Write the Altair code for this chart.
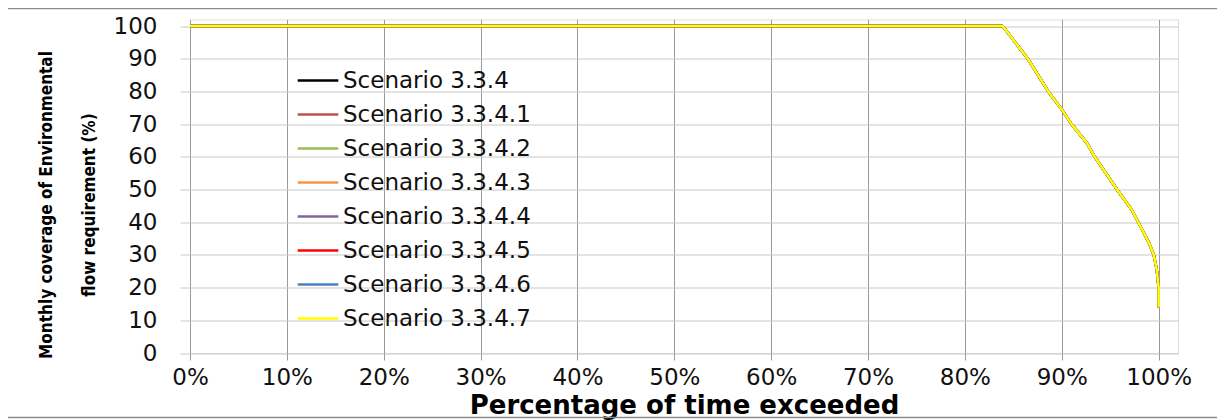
import altair as alt
import pandas as pd

# ---- data ----
scenarios = ["Scenario 3.3.4", "Scenario 3.3.4.1", "Scenario 3.3.4.2", "Scenario 3.3.4.3",
             "Scenario 3.3.4.4", "Scenario 3.3.4.5", "Scenario 3.3.4.6", "Scenario 3.3.4.7"]
colors = ["#000000", "#C0504D", "#9BBB59", "#F79646", "#8064A2", "#FF0000", "#4F81BD", "#FFFF00"]
widths = [2.5, 2.5, 2.5, 2.5, 2.5, 2.5, 2.5, 5]

# percentage of time exceeded (fraction) and monthly coverage (%)
exceed = [0.0, 0.839, 0.865, 0.886, 0.900, 0.910, 0.926, 0.934, 0.957, 0.972, 0.979,
          0.990, 0.995, 0.998, 1.000, 1.000]
coverage = [100, 100, 90, 80, 74.5, 70, 64.2, 60, 50, 43.9, 40,
            33.7, 30, 25.6, 20, 13.9]

x_ticks = [0, 0.1, 0.2, 0.3, 0.4, 0.5, 0.6, 0.7, 0.8, 0.9, 1.0]
y_ticks = [0, 10, 20, 30, 40, 50, 60, 70, 80, 90, 100]

rows = []
for s in scenarios:
    for xv, yv in zip(exceed, coverage):
        rows.append({"scenario": s, "exceed": xv, "coverage": yv})
df = pd.DataFrame(rows)

W, H = 988, 333.5
narrow = "'Liberation Sans Narrow', 'DejaVu Sans Condensed', 'Roboto Condensed', 'Arial Narrow', 'Liberation Sans', sans-serif"

frame = alt.Chart(pd.DataFrame({"f": [0]})).mark_rect(
    fill="transparent", stroke="#8c8c8c", strokeWidth=1.5
).encode(
    x=alt.value(-184), x2=alt.value(1100), y=alt.value(-11), y2=alt.value(398)
)

lines = alt.Chart(df).mark_line(strokeJoin="round", strokeCap="butt").encode(
    x=alt.X("exceed:Q",
            scale=alt.Scale(domain=[0, 1.02], nice=False, zero=False),
            axis=alt.Axis(values=x_ticks, format=".0%", grid=True, gridColor="#9a9a9a",
                          gridWidth=1, tickColor="#9a9a9a", tickSize=7, domain=False,
                          labelFont="DejaVu Sans", labelFontSize=23, labelColor="#111111",
                          labelPadding=6, labelFlush=False,
                          title="Percentage of time exceeded", titleFont="DejaVu Sans",
                          titleFontSize=26, titleFontWeight="bold", titleColor="#000000",
                          titleBaseline="alphabetic", titleY=60)),
    y=alt.Y("coverage:Q",
            scale=alt.Scale(domain=[0, 102], nice=False, zero=True),
            axis=alt.Axis(values=y_ticks, grid=True, gridColor="#c8c8c8", gridWidth=1,
                          tickColor="#c8c8c8", tickSize=10, domain=False,
                          labelFont="DejaVu Sans", labelFontSize=23, labelColor="#111111",
                          labelPadding=23,
                          title=["Monthly coverage of Environmental", "flow requirement  (%)"],
                          titleFont=narrow, titleFontSize=17,
                          titleFontWeight="bold", titleColor="#000000",
                          titleLineHeight=43, titleBaseline="middle", titleAlign="center",
                          titleX=-144, titleY=185, titleAngle=-90)),
    color=alt.Color("scenario:N",
                    scale=alt.Scale(domain=scenarios, range=colors),
                    legend=alt.Legend(title=None, orient="none", legendX=106, legendY=39,
                                      symbolType="stroke", symbolSize=1650,
                                      symbolStrokeWidth=3, labelFont="DejaVu Sans",
                                      labelFontSize=23, labelColor="#111111", labelLimit=0,
                                      labelOffset=3, rowPadding=0, padding=0)),
    strokeWidth=alt.StrokeWidth("scenario:N",
                                scale=alt.Scale(domain=scenarios, range=widths),
                                legend=None),
    order=alt.Order("exceed:Q"),
)

chart = alt.layer(frame, lines).properties(
    width=W, height=H,
    autosize=alt.AutoSizeParams(type="none"),
    padding={"left": 182, "top": 11.5, "right": 39, "bottom": 67},
).configure_view(stroke=None).configure(background="white")

chart.save("out.html", embed_options={"renderer": "svg", "actions": False})
